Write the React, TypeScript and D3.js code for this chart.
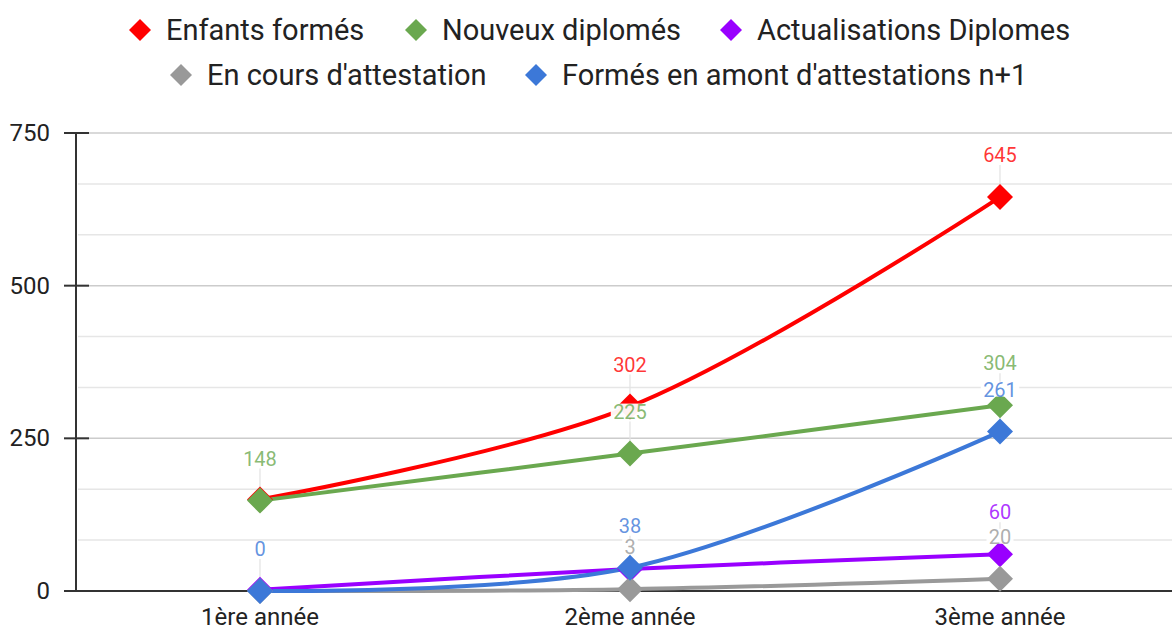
import * as d3 from "d3";

const CATEGORIES = ["1ère année", "2ème année", "3ème année"];

const SERIES_NAMES = [
  "Enfants formés",
  "Nouveux diplomés",
  "Actualisations Diplomes",
  "En cours d'attestation",
  "Formés en amont d'attestations n+1",
];
const SERIES_COLORS = ["#ff0000", "#6aa84f", "#9900ff", "#999999", "#3c78d8"];

const ENFANTS = [150, 302, 645];
const NOUVEAUX = [148, 225, 304];
const ACTUALISATIONS = [2, 36, 60];
const EN_COURS = [0, 3, 20];
const AMONT = [0, 38, 261];

// labels hidden behind other labels in the original
const HIDDEN_LABELS = ["0-0", "2-0", "2-1", "3-0"];

const Y_TICKS = [0, 250, 500, 750];
const MINOR_TICKS = [83.33, 166.67, 333.33, 416.67, 583.33, 666.67];

const W = 1172;
const H = 630;

export default function App() {
  const values = [ENFANTS, NOUVEAUX, ACTUALISATIONS, EN_COURS, AMONT];
  const series = SERIES_NAMES.map((name, i) => ({ name, color: SERIES_COLORS[i], values: values[i], idx: i }));

  const x = d3.scalePoint<string>().domain(CATEGORIES).range([260, 1000]);
  const y = d3.scaleLinear().domain([0, 750]).range([591, 133]);

  const line = d3
    .line<number>()
    .x((_, i) => x(CATEGORIES[i]) as number)
    .y((d) => y(d))
    .curve(d3.curveCatmullRom.alpha(0.5));

  const diamond = (cx: number, cy: number, r: number) =>
    `M${cx},${cy - r}L${cx + r},${cy}L${cx},${cy + r}L${cx - r},${cy}Z`;

  // legend layout (two centered rows)
  const legendRows = [
    [
      { i: 0, x: 140 },
      { i: 1, x: 416 },
      { i: 2, x: 731 },
    ],
    [
      { i: 3, x: 181 },
      { i: 4, x: 536 },
    ],
  ];
  const legendY = [30, 75];

  const labels = series.flatMap((s) =>
    s.values
      .map((v, i) => ({ s, v, i }))
      .filter((d) => !HIDDEN_LABELS.includes(`${d.s.idx}-${d.i}`))
  );

  return (
    <svg
      width={W}
      height={H}
      style={{ position: "absolute", left: 0, top: 0, background: "#fff", fontFamily: "Roboto, sans-serif" }}
    >
      {/* legend */}
      {legendRows.map((row, r) =>
        row.map((item) => (
          <g key={`lg-${item.i}`}>
            <path d={diamond(item.x, legendY[r], 11)} fill={SERIES_COLORS[item.i]} />
            <text x={item.x + 26} y={legendY[r] + 10} fontSize={29} fill="#222">
              {SERIES_NAMES[item.i]}
            </text>
          </g>
        ))
      )}

      {/* grid */}
      {MINOR_TICKS.map((t) => (
        <line key={`mn-${t}`} x1={78} x2={W} y1={y(t)} y2={y(t)} stroke="#e6e6e6" strokeWidth={1.5} />
      ))}
      {Y_TICKS.filter((t) => t > 0).map((t) => (
        <line key={`mj-${t}`} x1={78} x2={W} y1={y(t)} y2={y(t)} stroke="#cccccc" strokeWidth={1.5} />
      ))}

      {/* y axis */}
      <line x1={76} x2={76} y1={y(750)} y2={y(0)} stroke="#333" strokeWidth={2} />
      {Y_TICKS.map((t) => (
        <g key={`yt-${t}`}>
          <line x1={64} x2={89} y1={y(t)} y2={y(t)} stroke="#333" strokeWidth={2} />
          <text x={50} y={y(t) + 8} textAnchor="end" fontSize={24} fill="#222">
            {t}
          </text>
        </g>
      ))}
      <line x1={64} x2={W} y1={y(0)} y2={y(0)} stroke="#333" strokeWidth={2} />

      {/* x labels */}
      {CATEGORIES.map((c) => (
        <text key={c} x={x(c)} y={625} textAnchor="middle" fontSize={24} fill="#222">
          {c}
        </text>
      ))}

      {/* leader lines */}
      {labels.map(({ s, v, i }) => (
        <line
          key={`ld-${s.idx}-${i}`}
          x1={x(CATEGORIES[i])}
          x2={x(CATEGORIES[i])}
          y1={y(v) - 32}
          y2={y(v)}
          stroke="#e2e2e2"
          strokeWidth={1.2}
        />
      ))}

      {/* lines */}
      {series.map((s) => (
        <path key={`ln-${s.idx}`} d={line(s.values) || ""} fill="none" stroke={s.color} strokeWidth={4} />
      ))}

      {/* markers */}
      {series.map((s) =>
        s.values.map((v, i) => (
          <path key={`mk-${s.idx}-${i}`} d={diamond(x(CATEGORIES[i]) as number, y(v), 13)} fill={s.color} />
        ))
      )}

      {/* data labels */}
      {labels.map(({ s, v, i }) => {
        const cx = x(CATEGORIES[i]) as number;
        const w = String(v).length * 11.5 + 4;
        return (
          <g key={`lb-${s.idx}-${i}`}>
            <rect x={cx - w / 2} y={y(v) - 50} width={w} height={15} fill="#fff" fillOpacity={0.95} />
            <text x={cx} y={y(v) - 35} textAnchor="middle" fontSize={20} fill={s.color} fillOpacity={0.8}>
              {v}
            </text>
          </g>
        );
      })}
    </svg>
  );
}
